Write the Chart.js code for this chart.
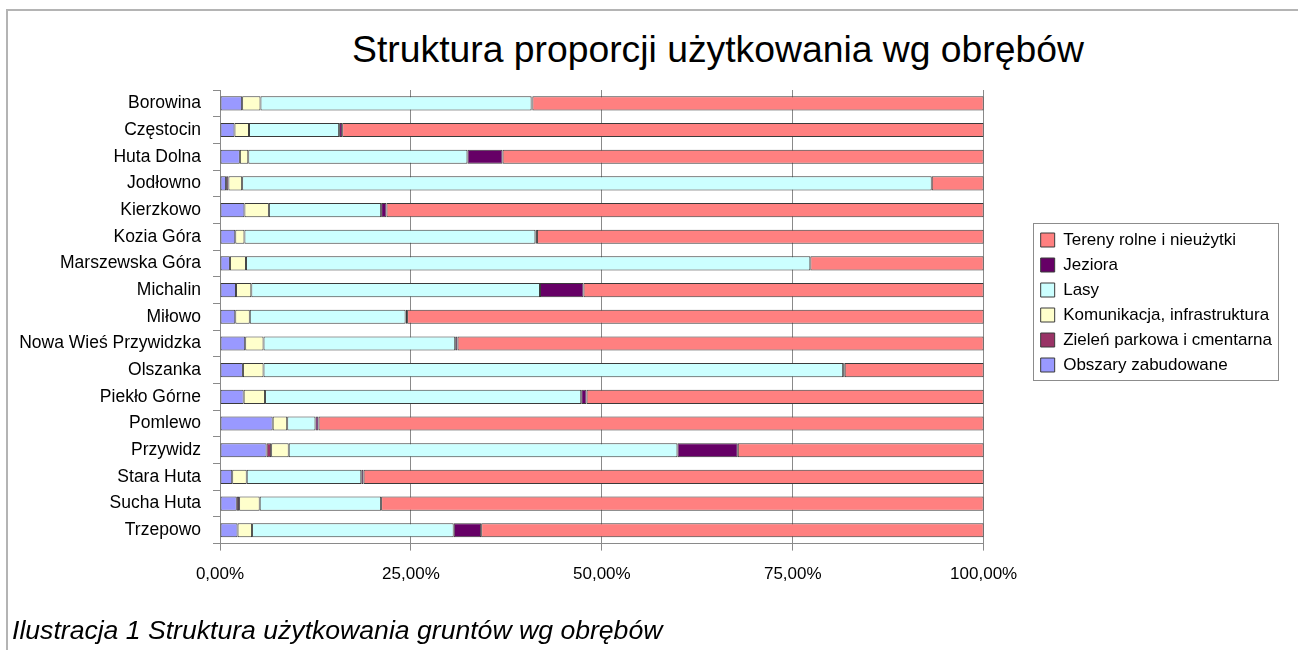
<!DOCTYPE html>
<html>
<head>
<meta charset="utf-8">
<script src="https://cdn.jsdelivr.net/npm/chart.js@4/dist/chart.umd.min.js"></script>
<style>
  html, body { margin: 0; padding: 0; background: #fff; }
  #page { position: relative; width: 1298px; height: 650px; overflow: hidden; font-family: "Liberation Sans", Arial, sans-serif; }
  #frame { position: absolute; left: 6px; top: 9px; width: 1300px; height: 700px; border-top: 2px solid #b4b4b4; border-left: 2px solid #b4b4b4; }
  #title { position: absolute; left: 218px; width: 1000px; top: 28px; text-align: center; font-size: 37.3px; line-height: 42px; color: #000; }
  #caption { position: absolute; left: 12px; top: 615px; font-size: 26.6px; font-style: italic; color: #000; white-space: nowrap; }
  #wrap { position: absolute; left: 0; top: 0; width: 1298px; height: 650px; }
</style>
</head>
<body>
<div id="page">
  <div id="frame"></div>
  <div id="title">Struktura proporcji użytkowania wg obrębów</div>
  <div id="wrap"><canvas id="chart"></canvas></div>
  <div id="caption">Ilustracja 1 Struktura użytkowania gruntów wg obrębów</div>
</div>
<script>
// obręby (kategorie)
const obreby = [
  "Borowina", "Częstocin", "Huta Dolna", "Jodłowno", "Kierzkowo", "Kozia Góra",
  "Marszewska Góra", "Michalin", "Miłowo", "Nowa Wieś Przywidzka", "Olszanka",
  "Piekło Górne", "Pomlewo", "Przywidz", "Stara Huta", "Sucha Huta", "Trzepowo"
];

// udział procentowy poszczególnych form użytkowania
const zabudowane  = [2.9, 1.9, 2.6, 0.8, 3.2, 2.0, 1.3, 2.1, 2.0, 3.3, 3.0, 3.1, 6.9, 6.1, 1.6, 2.2, 2.3];
const zielen      = [0, 0, 0, 0.3, 0, 0, 0, 0, 0, 0, 0, 0, 0, 0.6, 0, 0.3, 0];
const komunikacja = [2.4, 1.9, 1.1, 1.8, 3.2, 1.2, 2.1, 2.0, 1.9, 2.4, 2.7, 2.8, 1.9, 2.3, 1.9, 2.7, 1.9];
const lasy        = [35.5, 11.8, 28.7, 90.3, 14.7, 38.1, 73.9, 37.8, 20.4, 25.1, 75.9, 41.4, 3.7, 50.9, 15.0, 15.9, 26.4];
const jeziora     = [0.1, 0.4, 4.6, 0, 0.7, 0.2, 0, 5.7, 0.2, 0.3, 0.2, 0.7, 0.4, 7.9, 0.3, 0, 3.6];
const rolne       = [59.1, 84.0, 63.0, 6.8, 78.2, 58.5, 22.7, 52.4, 75.5, 68.9, 18.2, 52.0, 87.1, 32.2, 81.2, 78.9, 65.8];

// podziałka osi X
const xTicks = [0, 25, 50, 75, 100];

const FONT = "'Liberation Sans', Arial, sans-serif";

function ds(label, data, color) {
  return {
    label: label,
    data: data,
    backgroundColor: color,
    borderColor: "#3a3a3a",
    borderWidth: 1,
    borderSkipped: false,
    barPercentage: 0.53,
    categoryPercentage: 1.0,
  };
}

// przesunięcie legendy (odstęp od wykresu jak w oryginale) + ramka
const legendShift = {
  id: "legendShift",
  afterLayout(chart) {
    const lg = chart.legend;
    lg.left += 49; lg.right += 49;
    lg.top -= 42; lg.bottom -= 42;
  },
  afterDraw(chart) {
    const lg = chart.legend;
    const pad = lg.options.labels.padding;
    const colH = lg.columnSizes && lg.columnSizes[0] ? lg.columnSizes[0].height : 150;
    const start = (lg.top + pad + lg.bottom - colH) / 2;
    const ctx = chart.ctx;
    ctx.save();
    ctx.strokeStyle = "#8c8c8c";
    ctx.lineWidth = 1;
    ctx.strokeRect(Math.round(lg.left) + 0.5, Math.round(start - 9) + 0.5,
      Math.round(lg.right - lg.left - 4), Math.round(colH - pad + 15));
    ctx.restore();
  }
};

new Chart(document.getElementById("chart"), {
  type: "bar",
  data: {
    labels: obreby,
    datasets: [
      ds("Obszary zabudowane", zabudowane, "#9999ff"),
      ds("Zieleń parkowa i cmentarna", zielen, "#993366"),
      ds("Komunikacja, infrastruktura", komunikacja, "#ffffcc"),
      ds("Lasy", lasy, "#ccffff"),
      ds("Jeziora", jeziora, "#660066"),
      ds("Tereny rolne i nieużytki", rolne, "#ff8080"),
    ],
  },
  options: {
    indexAxis: "y",
    responsive: true,
    maintainAspectRatio: false,
    animation: false,
    layout: { padding: { left: 8, top: 90, bottom: 51, right: 65 } },
    scales: {
      x: {
        stacked: true,
        min: 0,
        max: 100,
        afterBuildTicks(scale) { scale.ticks = xTicks.map(v => ({ value: v })); },
        ticks: {
          color: "#000",
          font: { family: FONT, size: 17 },
          padding: 14,
          maxRotation: 0,
          callback: v => v.toFixed(2).replace(".", ",") + "%",
        },
        grid: { color: "#8a8a8a", tickLength: 7, drawTicks: true },
        border: { color: "#8a8a8a" },
      },
      y: {
        stacked: true,
        afterFit(scale) { scale.width = 212; },
        ticks: { color: "#000", font: { family: FONT, size: 17.5 }, padding: 12 },
        grid: { drawOnChartArea: false, color: "#8a8a8a", tickLength: 7, offset: true },
        border: { color: "#8a8a8a" },
      },
    },
    plugins: {
      legend: {
        position: "right",
        reverse: true,
        labels: {
          color: "#000",
          font: { family: FONT, size: 17 },
          boxWidth: 14,
          boxHeight: 14,
          padding: 8,
        },
      },
      tooltip: { enabled: false },
    },
  },
  plugins: [legendShift],
});
</script>
</body>
</html>
